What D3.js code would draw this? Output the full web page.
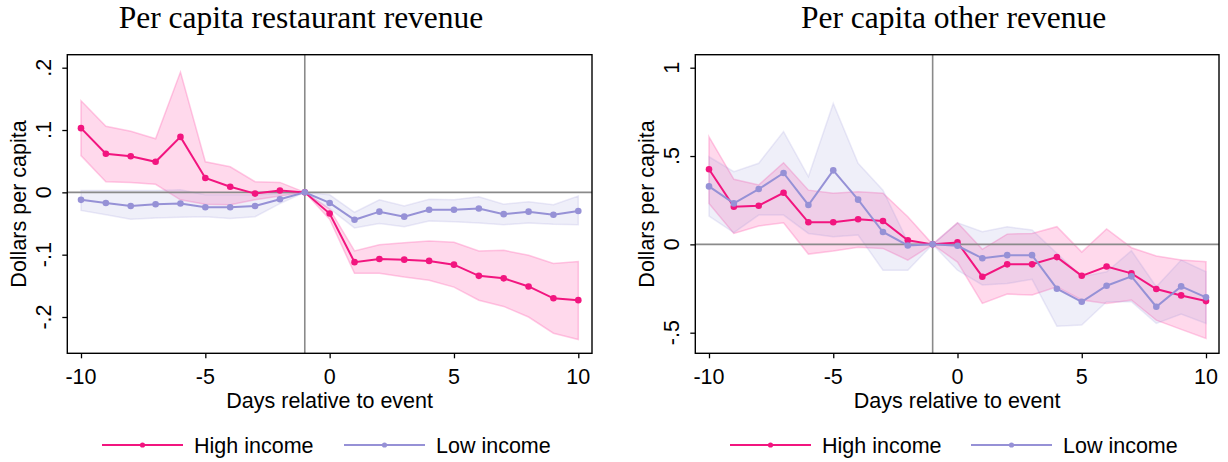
<!DOCTYPE html>
<html><head><meta charset="utf-8">
<script src="https://cdn.jsdelivr.net/npm/d3@7"></script>
<style>
html,body{margin:0;padding:0;background:#fff;}
text{font-family:"Liberation Sans",Arial,Helvetica,sans-serif;}
.title{font-family:"Liberation Serif","Times New Roman",serif;}
</style></head>
<body>
<svg id="chart" width="1228" height="462"></svg>
<script>
const days = [-10,-9,-8,-7,-6,-5,-4,-3,-2,-1,0,1,2,3,4,5,6,7,8,9,10];
const xTicks = [-10,-5,0,5,10];
const seriesNames = ["High income","Low income"];

// Panel 1: restaurant revenue
const restHigh   = [0.103,0.062,0.058,0.049,0.089,0.023,0.009,-0.002,0.003,0,-0.034,-0.112,-0.107,-0.108,-0.110,-0.116,-0.134,-0.138,-0.151,-0.170,-0.173];
const restHighLo = [0.059,0.017,0.016,0.013,-0.012,-0.019,-0.020,-0.012,-0.006,0,-0.043,-0.130,-0.130,-0.136,-0.141,-0.152,-0.173,-0.183,-0.200,-0.226,-0.236];
const restHighHi = [0.147,0.106,0.098,0.086,0.193,0.049,0.041,0.017,0.016,0,-0.027,-0.094,-0.084,-0.081,-0.078,-0.080,-0.094,-0.093,-0.101,-0.114,-0.111];
const restLow    = [-0.012,-0.017,-0.022,-0.019,-0.018,-0.024,-0.024,-0.022,-0.011,0,-0.017,-0.044,-0.031,-0.039,-0.028,-0.028,-0.026,-0.035,-0.031,-0.036,-0.030];
const restLowLo  = [-0.029,-0.036,-0.043,-0.041,-0.040,-0.039,-0.042,-0.039,-0.018,0,-0.026,-0.057,-0.050,-0.055,-0.046,-0.047,-0.049,-0.052,-0.049,-0.051,-0.052];
const restLowHi  = [0.003,0.003,0.003,0.003,0.004,-0.004,-0.004,-0.004,-0.002,0,-0.004,-0.032,-0.012,-0.022,-0.011,-0.012,-0.007,-0.019,-0.015,-0.020,-0.006];
const restYTicks = [-0.2,-0.1,0,0.1,0.2];
const restYLabels = ["-.2","-.1","0",".1",".2"];

// Panel 2: other revenue
const othHigh   = [0.425,0.213,0.219,0.292,0.125,0.125,0.142,0.132,0.023,0,0.011,-0.183,-0.113,-0.113,-0.072,-0.178,-0.125,-0.164,-0.253,-0.289,-0.321];
const othHighLo = [0.232,0.062,0.104,0.122,-0.055,-0.038,-0.017,-0.023,-0.089,0,-0.100,-0.334,-0.281,-0.287,-0.240,-0.315,-0.334,-0.315,-0.429,-0.481,-0.532];
const othHighHi = [0.609,0.368,0.336,0.462,0.307,0.289,0.298,0.289,0.156,0,0.122,-0.028,0.058,0.062,0.100,-0.044,0.087,-0.019,-0.066,-0.089,-0.098];
const othLow    = [0.328,0.232,0.313,0.404,0.223,0.419,0.253,0.070,-0.006,0,-0.008,-0.079,-0.061,-0.061,-0.251,-0.325,-0.234,-0.181,-0.353,-0.238,-0.300];
const othLowLo  = [0.160,0.066,0.166,0.166,0.062,0.043,0.053,-0.146,-0.146,0,-0.146,-0.230,-0.221,-0.198,-0.463,-0.457,-0.325,-0.325,-0.447,-0.395,-0.447];
const othLowHi  = [0.496,0.411,0.459,0.638,0.383,0.798,0.459,0.307,0.015,0,0.122,0.071,0.100,0.081,-0.051,-0.183,-0.155,-0.036,-0.240,-0.089,-0.155];
const othYTicks = [-0.5,0,0.5,1];
const othYLabels = ["-.5","0",".5","1"];

const HIGH = "#f2157f", LOW = "#9691d6";
const HIGH_BAND = "#ff69b4", LOW_BAND = "#9691d6";

const svg = d3.select("#chart");

function panel(cfg){
  const g = svg.append("g");
  const x = d3.scaleLinear().domain([-10,10]).range([cfg.x0, cfg.x1]);
  const y = d3.scaleLinear().domain(cfg.yDom).range(cfg.yRange);
  const left = cfg.frame[0], right = cfg.frame[1], top = cfg.frame[2], bottom = cfg.frame[3];

  // title
  g.append("text").attr("class","title").attr("x",cfg.titleX).attr("y",28)
    .attr("text-anchor","middle").attr("font-size","31.5px").attr("fill","#000").text(cfg.title);

  const area = (lo,hi) => d3.area().x((d,i)=>x(days[i])).y0((d,i)=>y(lo[i])).y1((d,i)=>y(hi[i]));
  const line = vals => d3.line().x((d,i)=>x(days[i])).y((d,i)=>y(vals[i]));

  // bands
  g.append("path").attr("d", area(cfg.hLo,cfg.hHi)(days))
    .attr("fill",HIGH_BAND).attr("fill-opacity",0.25)
    .attr("stroke",HIGH_BAND).attr("stroke-opacity",0.35).attr("stroke-width",1.5);
  g.append("path").attr("d", area(cfg.lLo,cfg.lHi)(days))
    .attr("fill",LOW_BAND).attr("fill-opacity",0.15)
    .attr("stroke",LOW_BAND).attr("stroke-opacity",0.18).attr("stroke-width",1.5);

  // reference lines
  g.append("line").attr("x1",left).attr("x2",right).attr("y1",y(0)).attr("y2",y(0))
    .attr("stroke","#8a8a8a").attr("stroke-width",1.6);
  g.append("line").attr("x1",x(-1)).attr("x2",x(-1)).attr("y1",top).attr("y2",bottom)
    .attr("stroke","#8a8a8a").attr("stroke-width",1.6);

  // series lines + markers
  [[cfg.h,HIGH],[cfg.l,LOW]].forEach(([vals,col])=>{
    g.append("path").attr("d", line(vals)(days)).attr("fill","none")
      .attr("stroke",col).attr("stroke-width",2);
    g.selectAll(null).data(days).enter().append("circle")
      .attr("cx",d=>x(d)).attr("cy",(d,i)=>y(vals[i])).attr("r",3.3).attr("fill",col);
  });

  // frame
  g.append("rect").attr("x",left).attr("y",top).attr("width",right-left).attr("height",bottom-top)
    .attr("fill","none").attr("stroke","#000").attr("stroke-width",1.4);

  // y axis
  const ya = d3.axisLeft(y).tickValues(cfg.yTicks).tickSize(5).tickFormat("");
  const yg = g.append("g").attr("transform",`translate(${left},0)`).call(ya);
  yg.select(".domain").remove();
  yg.selectAll(".tick line").attr("stroke","#000").attr("stroke-width",1.3);
  cfg.yTicks.forEach((t,i)=>{
    g.append("text").attr("transform",`translate(${left-16},${y(t)}) rotate(-90)`)
      .attr("text-anchor","middle").attr("font-size","21.5px").text(cfg.yLabels[i]);
  });
  g.append("text").attr("transform",`translate(${left-41},${(top+bottom)/2}) rotate(-90)`)
    .attr("text-anchor","middle").attr("font-size","21.5px").text("Dollars per capita");

  // x axis
  const xa = d3.axisBottom(x).tickValues(xTicks).tickSize(5).tickFormat("");
  const xg = g.append("g").attr("transform",`translate(0,${bottom})`).call(xa);
  xg.select(".domain").remove();
  xg.selectAll(".tick line").attr("stroke","#000").attr("stroke-width",1.3);
  xTicks.forEach(t=>{
    g.append("text").attr("x",x(t)).attr("y",384).attr("text-anchor","middle")
      .attr("font-size","21.5px").text(d3.format("d")(t).replace("−","-"));
  });
  g.append("text").attr("x",(left+right)/2).attr("y",408).attr("text-anchor","middle")
    .attr("font-size","21.5px").text("Days relative to event");

  // legend
  const legY = 445;
  [[cfg.legX[0],HIGH,seriesNames[0]],[cfg.legX[1],LOW,seriesNames[1]]].forEach(([lx,col,name])=>{
    g.append("line").attr("x1",lx).attr("x2",lx+81).attr("y1",legY).attr("y2",legY)
      .attr("stroke",col).attr("stroke-width",2.2);
    g.append("circle").attr("cx",lx+40.5).attr("cy",legY).attr("r",2.6).attr("fill",col);
    g.append("text").attr("x",lx+92).attr("y",legY+7.5).attr("font-size","21.5px").text(name);
  });
}

panel({title:"Per capita restaurant revenue", titleX:301,
  x0:81, x1:578.3, yDom:[-0.2,0.2], yRange:[317,67.7], frame:[67.3,592,54.7,353.3],
  yTicks:restYTicks, yLabels:restYLabels,
  h:restHigh,hLo:restHighLo,hHi:restHighHi,l:restLow,lLo:restLowLo,lHi:restLowHi,
  legX:[102,344]});

panel({title:"Per capita other revenue", titleX:953.5,
  x0:709, x1:1206, yDom:[-0.5,1], yRange:[332.7,67.7], frame:[695.3,1219,54.7,353.3],
  yTicks:othYTicks, yLabels:othYLabels,
  h:othHigh,hLo:othHighLo,hHi:othHighHi,l:othLow,lLo:othLowLo,lHi:othLowHi,
  legX:[730,971]});
</script>
</body></html>
